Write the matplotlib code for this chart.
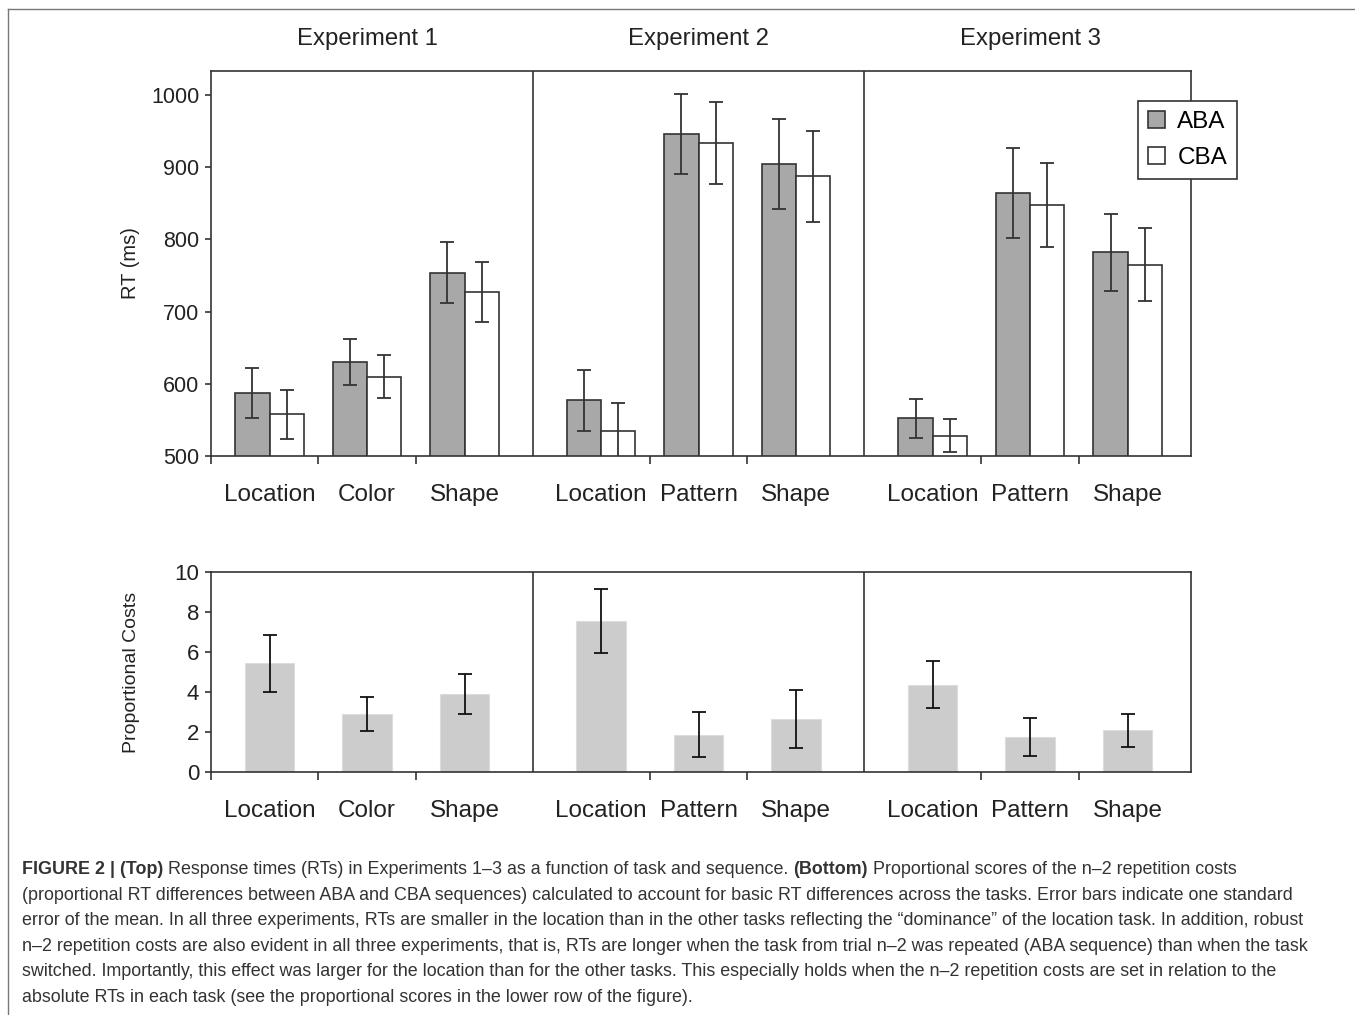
import matplotlib
matplotlib.use("Agg")
from matplotlib import pyplot as plt
from matplotlib import transforms

plt.rcParams['font.family'] = ['Liberation Sans', 'DejaVu Sans']

# data
experiments = ["Experiment 1", "Experiment 2", "Experiment 3"]
tasks = ["Location", "Color", "Shape",
         "Location", "Pattern", "Shape",
         "Location", "Pattern", "Shape"]
rt_aba = [587, 630, 754, 577, 946, 904, 552, 864, 782]
rt_aba_se = [35, 32, 42, 42, 55, 62, 27, 62, 53]
rt_cba = [558, 610, 727, 535, 933, 887, 528, 847, 765]
rt_cba_se = [34, 30, 41, 39, 57, 63, 23, 58, 51]
prop_cost = [5.43, 2.90, 3.88, 7.55, 1.87, 2.65, 4.37, 1.77, 2.08]
prop_cost_se = [1.42, 0.83, 1.00, 1.62, 1.14, 1.43, 1.18, 0.95, 0.81]

caption = [
    [("FIGURE 2 | (Top)", "bold"), (" Response times (RTs) in Experiments 1\u20133 as a function of task and sequence. ", "normal"),
     ("(Bottom)", "bold"), (" Proportional scores of the n\u20132 repetition costs", "normal")],
    [("(proportional RT differences between ABA and CBA sequences) calculated to account for basic RT differences across the tasks. Error bars indicate one standard", "normal")],
    [("error of the mean. In all three experiments, RTs are smaller in the location than in the other tasks reflecting the \u201cdominance\u201d of the location task. In addition, robust", "normal")],
    [("n\u20132 repetition costs are also evident in all three experiments, that is, RTs are longer when the task from trial n\u20132 was repeated (ABA sequence) than when the task", "normal")],
    [("switched. Importantly, this effect was larger for the location than for the other tasks. This especially holds when the n\u20132 repetition costs are set in relation to the", "normal")],
    [("absolute RTs in each task (see the proportional scores in the lower row of the figure).", "normal")],
]

W, H = 1355, 1015
line_col = "#333333"
txt_col = "#222222"

# category positions: 3 per panel, panels spaced a bit apart
gap = 3.4
pos = [p * gap + i for p in range(3) for i in range(3)]
dividers = [2.7, 2.7 + gap]
minor = [-0.6] + [p * gap + i + 0.5 for p in range(3) for i in range(2)]
bw = 0.35

fig = plt.figure(figsize=(W / 100, H / 100), dpi=100)
ax1 = fig.add_axes([211 / W, 1 - 456 / H, 980 / W, 385 / H])
ax2 = fig.add_axes([211 / W, 1 - 772 / H, 980 / W, 200 / H])

err_kw = dict(ecolor=line_col, elinewidth=1.3, capsize=5, capthick=1.3)
ax1.bar([p - bw / 2 for p in pos], rt_aba, bw, yerr=rt_aba_se, color="#a8a8a8",
        edgecolor=line_col, linewidth=1.2, error_kw=err_kw, label="ABA", zorder=2)
ax1.bar([p + bw / 2 for p in pos], rt_cba, bw, yerr=rt_cba_se, color="white",
        edgecolor=line_col, linewidth=1.2, error_kw=err_kw, label="CBA", zorder=2)
ax1.set_ylim(500, 1033)
ax1.set_yticks([500, 600, 700, 800, 900, 1000])
ax1.set_ylabel("RT (ms)", fontsize=14.5, color=txt_col)
ax1.yaxis.set_label_coords(-0.072, 0.5)

ax2.bar(pos, prop_cost, 0.51, yerr=prop_cost_se, color="#cccccc", edgecolor="#dddddd",
        linewidth=0.8, error_kw=dict(ecolor="#111111", elinewidth=1.3, capsize=5, capthick=1.3), zorder=2)
ax2.set_ylim(0, 10)
ax2.set_yticks([0, 2, 4, 6, 8, 10])
ax2.set_ylabel("Proportional Costs", fontsize=14, color=txt_col)
ax2.yaxis.set_label_coords(-0.072, 0.5)

for ax, ysize in [(ax1, 15.5), (ax2, 16)]:
    ax.set_xlim(-0.6, 9.45)
    ax.set_xticks(pos)
    ax.set_xticklabels(tasks)
    ax.set_xticks(minor, minor=True)
    ax.tick_params(axis="x", which="major", length=0, pad=20.5, labelsize=17.5, labelcolor=txt_col)
    ax.tick_params(axis="x", which="minor", length=6, width=1.2, color=line_col, direction="out")
    ax.tick_params(axis="y", length=4.5, width=1.2, color=line_col, pad=4,
                   labelsize=ysize, labelcolor=txt_col)
    for s in ax.spines.values():
        s.set_color(line_col)
        s.set_linewidth(1.2)
    for d in dividers:
        ax.axvline(d, color=line_col, linewidth=1.2, zorder=3)

# experiment titles over the middle task of each panel
tr = transforms.blended_transform_factory(ax1.transData, fig.transFigure)
for p, name in enumerate(experiments):
    ax1.text(pos[p * 3 + 1], 1 - 39 / H, name, transform=tr, ha="center", va="center",
             fontsize=17.2, color=txt_col)

fig.legend(loc="upper left", bbox_to_anchor=(1138 / W, 1 - 101 / H), fontsize=17.5,
           frameon=True, fancybox=False, edgecolor=line_col, framealpha=1,
           handlelength=0.7, handleheight=0.7, handletextpad=0.5,
           labelspacing=0.55, borderpad=0.42, borderaxespad=0)
fig.legends[0].get_frame().set_linewidth(1.2)

# caption, one line at a time, bold pieces chained after each other
y0 = 870
for k, pieces in enumerate(caption):
    prev = None
    for text, weight in pieces:
        if prev is None:
            prev = fig.text(22 / W, 1 - (y0 + k * 25.4) / H, text, fontsize=12.9,
                            fontweight=weight, color="#333333", va="center", ha="left")
        else:
            prev = fig.add_artist(plt.Annotation(text, xy=(1, 0), xycoords=prev, va="bottom",
                                                 ha="left", fontsize=12.9, fontweight=weight,
                                                 color="#333333"))

# outer frame of the figure panel
fig.add_artist(plt.Line2D([8 / W, 1], [1 - 9 / H, 1 - 9 / H], color="#777777", linewidth=1))
fig.add_artist(plt.Line2D([8 / W, 8 / W], [0, 1 - 9 / H], color="#777777", linewidth=1))

fig.savefig("out.png", dpi=100)
